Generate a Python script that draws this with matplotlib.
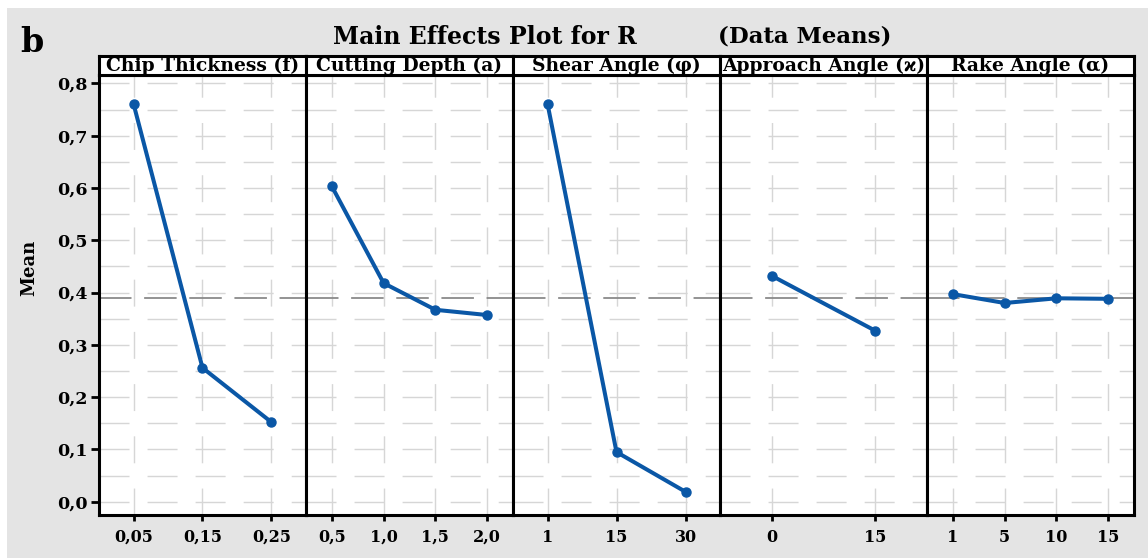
import matplotlib
matplotlib.use("Agg")
import matplotlib.pyplot as plt
from matplotlib.patches import Rectangle

# ---- data ----
factors = ["Chip Thickness (f)", "Cutting Depth (a)", "Shear Angle (φ)",
           "Approach Angle (ϰ)", "Rake Angle (α)"]
levels_f = ["0,05", "0,15", "0,25"]
levels_a = ["0,5", "1,0", "1,5", "2,0"]
levels_phi = ["1", "15", "30"]
levels_kappa = ["0", "15"]
levels_alpha = ["1", "5", "10", "15"]
means_f = [0.761, 0.256, 0.152]
means_a = [0.603, 0.418, 0.367, 0.357]
means_phi = [0.761, 0.095, 0.019]
means_kappa = [0.432, 0.327]
means_alpha = [0.397, 0.380, 0.389, 0.388]
grand_mean = 0.389
yticks = [0.0, 0.1, 0.2, 0.3, 0.4, 0.5, 0.6, 0.7, 0.8]
ytick_labels = ["0,0", "0,1", "0,2", "0,3", "0,4", "0,5", "0,6", "0,7", "0,8"]

levels = [levels_f, levels_a, levels_phi, levels_kappa, levels_alpha]
means = [means_f, means_a, means_phi, means_kappa, means_alpha]

W, H = 1148, 558
fig = plt.figure(figsize=(W / 100, H / 100), dpi=100)
fig.patch.set_facecolor("white")
fig.add_artist(Rectangle((7 / W, 0), 1, 1 - 8 / H, transform=fig.transFigure,
                         facecolor="#e4e4e4", edgecolor="none", zorder=-10))

serif = ["DejaVu Serif", "DejaVu Sans"]
blue = "#0a57a6"
gridc = "#d6d6d6"

left, right = 99, 1134
plot_top, plot_bot = 75, 515
head_top = 56
pw = (right - left) / 5

for i in range(5):
    x0 = left + i * pw
    ax = fig.add_axes([x0 / W, 1 - plot_bot / H, pw / W, (plot_bot - plot_top) / H])
    hx = fig.add_axes([x0 / W, 1 - plot_top / H, pw / W, (plot_top - head_top) / H])
    n = len(levels[i])
    xs = list(range(1, n + 1))
    ax.set_xlim(0.5, n + 0.5)
    ax.set_ylim(-0.0254, 0.816)
    # grid
    for yv in [k * 0.05 for k in range(17)]:
        ax.axhline(yv, color=gridc, lw=1.0, dashes=(21.6, 13), dash_capstyle="butt", zorder=0)
    for xv in xs:
        ax.axvline(xv, color=gridc, lw=1.0, dashes=(19.4, 18.2), dash_capstyle="butt", zorder=0)
    ax.axhline(grand_mean, color="#8a8a8a", lw=1.3, dashes=(18, 7), zorder=1)
    ax.plot(xs, means[i], color=blue, lw=2.9, marker="o", ms=6.5,
            markeredgecolor=blue, zorder=3)
    ax.set_xticks(xs)
    ax.set_xticklabels(levels[i], fontfamily=serif, fontweight="bold", fontsize=11.5)
    ax.tick_params(axis="x", length=4, width=2, direction="out", pad=6)
    if i == 0:
        ax.set_yticks(yticks)
        ax.set_yticklabels(ytick_labels, fontfamily=serif, fontweight="bold", fontsize=12.5)
        ax.tick_params(axis="y", length=6, width=2, direction="out", pad=2)
    else:
        ax.set_yticks([])
    for s in ax.spines.values():
        s.set_linewidth(2.2)
    ax.set_facecolor("white")

    hx.set_xticks([])
    hx.set_yticks([])
    hx.set_facecolor("white")
    for s in hx.spines.values():
        s.set_linewidth(2.2)
    hx.text(0.5, 0.47, factors[i], ha="center", va="center", fontfamily=serif,
            fontweight="bold", fontsize=13.5, transform=hx.transAxes)

fig.text(485 / W, 1 - 37 / H, "Main Effects Plot for R", ha="center", va="center",
         fontfamily=serif, fontweight="bold", fontsize=17)
fig.text(805 / W, 1 - 36 / H, "(Data Means)", ha="center", va="center",
         fontfamily=serif, fontweight="bold", fontsize=16.5)
fig.text(32 / W, 1 - 42 / H, "b", ha="center", va="center",
         fontfamily=serif, fontweight="bold", fontsize=24)
fig.text(29 / W, 1 - 268 / H, "Mean", ha="center", va="center", rotation=90,
         fontfamily=serif, fontweight="bold", fontsize=13)

fig.savefig("out.png", dpi=100)
